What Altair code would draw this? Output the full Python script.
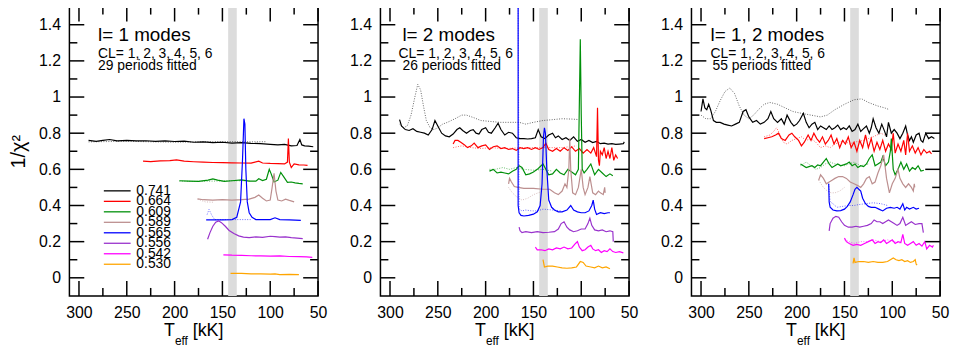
import altair as alt
import pandas as pd

FONT = "Liberation Sans"
SERIES = ["0.741", "0.664", "0.609", "0.589", "0.565", "0.556", "0.542", "0.530"]
COLORS = ["#000000", "#ff0000", "#00900a", "#bc8f8f", "#0000ff", "#9932cc", "#ff00ff", "#ffa500"]

X_MAJOR = [300, 250, 200, 150, 100, 50]
X_MINOR = [275, 225, 175, 125, 75]
Y_MAJOR = [0, 0.2, 0.4, 0.6, 0.8, 1.0, 1.2, 1.4]
Y_MINOR = [0.1, 0.3, 0.5, 0.7, 0.9, 1.1, 1.3]
BAND = [144, 135]

# ---------------- panel 1 : l = 1 ----------------
P1_SOLID = {
    "0.741": [(290, 0.76), (282, 0.755), (275, 0.76), (268, 0.765), (260, 0.758), (250, 0.76), (240, 0.757),
              (230, 0.758), (220, 0.755), (210, 0.757), (200, 0.754), (190, 0.756), (180, 0.75), (170, 0.752),
              (160, 0.748), (150, 0.75), (140, 0.745), (130, 0.748), (120, 0.744), (110, 0.742), (100, 0.738),
              (92, 0.735), (85, 0.738), (78, 0.73), (72, 0.732), (69, 0.765), (67, 0.735), (64, 0.73),
              (60, 0.728), (55, 0.725)],
    "0.664": [(233, 0.645), (225, 0.643), (215, 0.647), (205, 0.648), (198, 0.652), (190, 0.645), (180, 0.642),
              (170, 0.64), (160, 0.638), (150, 0.637), (140, 0.636), (130, 0.635), (120, 0.634), (112, 0.645),
              (108, 0.635), (100, 0.633), (92, 0.632), (85, 0.63), (82, 0.64), (81, 0.77), (80, 0.64),
              (78, 0.61), (75, 0.63), (70, 0.625), (65, 0.624), (61, 0.622)],
    "0.609": [(195, 0.537), (185, 0.535), (175, 0.533), (165, 0.54), (160, 0.547), (155, 0.54), (148, 0.533),
              (140, 0.537), (130, 0.542), (122, 0.535), (115, 0.535), (112, 0.548), (108, 0.538), (104, 0.545),
              (101, 0.6), (99, 0.575), (96, 0.53), (92, 0.54), (89, 0.583), (86, 0.56), (82, 0.528),
              (78, 0.53), (74, 0.525), (70, 0.522), (66, 0.52)],
    "0.589": [(176, 0.437), (170, 0.432), (160, 0.43), (150, 0.432), (140, 0.43), (130, 0.432), (122, 0.435),
              (116, 0.445), (112, 0.458), (108, 0.44), (104, 0.425), (100, 0.43), (98, 0.5), (96, 0.578),
              (94, 0.48), (92, 0.43), (88, 0.425), (84, 0.435), (80, 0.428), (75, 0.42)],
    "0.565": [(167, 0.32), (160, 0.32), (150, 0.32), (140, 0.322), (135, 0.335), (131, 0.42), (129, 0.65),
              (127.5, 0.88), (126.5, 0.85), (125.5, 0.6), (124, 0.42), (122, 0.36), (119, 0.335), (115, 0.322),
              (110, 0.322), (100, 0.322), (95, 0.332), (90, 0.322), (80, 0.32), (68, 0.318)],
    "0.556": [(165.5, 0.213), (163, 0.25), (160, 0.285), (157, 0.308), (154, 0.315), (151, 0.305), (147, 0.285),
              (143, 0.262), (138, 0.245), (133, 0.232), (128, 0.225), (122, 0.222), (115, 0.226), (108, 0.224),
              (100, 0.23), (95, 0.228), (90, 0.225), (84, 0.226), (78, 0.222), (72, 0.22), (66, 0.217)],
    "0.542": [(149, 0.127), (140, 0.125), (130, 0.124), (120, 0.122), (110, 0.121), (100, 0.12), (90, 0.121),
              (80, 0.118), (70, 0.117), (62, 0.116), (56, 0.113)],
    "0.530": [(141.5, 0.025), (130, 0.024), (120, 0.022), (110, 0.022), (100, 0.02), (95, 0.022), (90, 0.018),
              (80, 0.019), (70, 0.018)],
}
P1_DOTTED = {
    "0.741": [(290, 0.752), (250, 0.755), (200, 0.75), (150, 0.754), (120, 0.752), (104, 0.753)],
    "0.609": [(195, 0.535), (180, 0.533), (160, 0.535), (140, 0.537), (120, 0.536)],
    "0.589": [(176, 0.435), (168, 0.42), (160, 0.418)],
    "0.565": [(166, 0.35), (164, 0.378), (161, 0.345), (158, 0.322), (150, 0.322), (140, 0.322),
              (130, 0.322), (120, 0.322)],
}

# ---------------- panel 2 : l = 2 ----------------
P2_SOLID = {
    "0.741": [(290, 0.875), (288, 0.84), (284, 0.82), (280, 0.815), (276, 0.825), (272, 0.81), (268, 0.805),
              (264, 0.8), (260, 0.79), (256, 0.82), (253, 0.87), (250, 0.84), (246, 0.8), (242, 0.785),
              (238, 0.78), (234, 0.795), (230, 0.82), (227, 0.83), (224, 0.815), (220, 0.8), (216, 0.815),
              (213, 0.82), (210, 0.8), (207, 0.795), (204, 0.82), (200, 0.83), (197, 0.805), (194, 0.8),
              (190, 0.83), (187, 0.855), (184, 0.82), (180, 0.79), (176, 0.805), (172, 0.8), (168, 0.775),
              (164, 0.77), (160, 0.77), (156, 0.768), (152, 0.77), (148, 0.775), (145, 0.82), (142, 0.78),
              (138, 0.77), (134, 0.79), (130, 0.8), (127, 0.775), (124, 0.785), (120, 0.765), (116, 0.775),
              (112, 0.76), (108, 0.78), (104, 0.755), (100, 0.765), (96, 0.75), (92, 0.76), (88, 0.748),
              (84, 0.755), (80, 0.742), (76, 0.745), (72, 0.74), (68, 0.742), (64, 0.738), (60, 0.74),
              (56, 0.742), (55, 0.752)],
    "0.664": [(234, 0.74), (232, 0.76), (229, 0.76), (226, 0.75), (222, 0.735), (219, 0.72), (215, 0.73),
              (212, 0.745), (208, 0.72), (204, 0.73), (200, 0.735), (196, 0.71), (192, 0.725), (188, 0.73),
              (184, 0.715), (180, 0.72), (176, 0.71), (172, 0.715), (168, 0.705), (164, 0.72), (160, 0.715),
              (156, 0.72), (152, 0.71), (148, 0.72), (144, 0.71), (140, 0.72), (137, 0.745), (134, 0.71),
              (130, 0.7), (126, 0.715), (122, 0.7), (118, 0.72), (114, 0.705), (110, 0.725), (106, 0.7),
              (102, 0.715), (98, 0.69), (94, 0.71), (90, 0.69), (87, 0.72), (84, 0.67), (83, 0.94),
              (82, 0.65), (81, 0.62), (80, 0.7), (78, 0.68), (76, 0.72), (74, 0.66), (72, 0.7), (70, 0.66),
              (68, 0.72), (66, 0.65), (64, 0.68), (62, 0.66)],
    "0.609": [(196, 0.59), (192, 0.6), (188, 0.58), (184, 0.585), (180, 0.58), (176, 0.575), (172, 0.59),
              (168, 0.6), (165, 0.62), (162, 0.61), (158, 0.57), (154, 0.575), (150, 0.585), (146, 0.6),
              (142, 0.62), (140, 0.63), (137, 0.6), (134, 0.57), (130, 0.575), (126, 0.6), (122, 0.58),
              (118, 0.57), (114, 0.6), (110, 0.585), (106, 0.57), (103, 0.6), (101, 1.32), (100, 0.9),
              (99, 0.6), (97, 0.58), (94, 0.6), (90, 0.63), (86, 0.57), (82, 0.6), (78, 0.58), (74, 0.56),
              (70, 0.575), (67, 0.565)],
    "0.589": [(176, 0.52), (175, 0.55), (173, 0.53), (170, 0.505), (166, 0.5), (160, 0.495), (150, 0.495),
              (140, 0.49), (133, 0.49), (128, 0.47), (124, 0.46), (120, 0.48), (117, 0.52), (115, 0.5),
              (113, 0.6), (112, 0.77), (111, 0.6), (109, 0.47), (106, 0.46), (103, 0.5), (100, 0.6),
              (98, 0.5), (96, 0.46), (93, 0.5), (91, 0.56), (88, 0.47), (85, 0.46), (82, 0.48), (80, 0.47),
              (77, 0.46), (75.5, 0.5), (75, 0.47)],
    "0.565": [(166, 1.52), (166, 0.4), (165, 0.36), (163, 0.345), (160, 0.342), (155, 0.345), (150, 0.352),
              (146, 0.365), (143, 0.4), (141, 0.52), (139.5, 0.78), (138.5, 0.83), (137.5, 0.8), (136, 0.6),
              (134, 0.43), (131, 0.39), (128, 0.375), (124, 0.365), (120, 0.365), (115, 0.375), (111, 0.4),
              (108, 0.375), (104, 0.365), (100, 0.36), (96, 0.36), (92, 0.37), (89, 0.4), (87.5, 0.43),
              (86, 0.38), (84, 0.35), (80, 0.36), (76, 0.355), (72, 0.36), (70, 0.36)],
    "0.556": [(165, 0.28), (164, 0.26), (162, 0.25), (158, 0.255), (152, 0.25), (146, 0.255), (140, 0.25),
              (134, 0.252), (128, 0.255), (124, 0.27), (121, 0.3), (118, 0.31), (115, 0.28), (112, 0.265),
              (108, 0.255), (104, 0.26), (100, 0.27), (96, 0.27), (93, 0.3), (91, 0.33), (89, 0.29),
              (86, 0.265), (82, 0.26), (78, 0.265), (74, 0.255), (70, 0.26), (67, 0.255), (66.5, 0.2)],
    "0.542": [(148, 0.17), (146, 0.155), (142, 0.155), (138, 0.15), (134, 0.16), (130, 0.155), (126, 0.165),
              (122, 0.16), (118, 0.17), (114, 0.16), (110, 0.165), (106, 0.19), (104, 0.2), (102, 0.17),
              (99, 0.15), (96, 0.155), (93, 0.17), (90, 0.18), (88, 0.16), (85, 0.15), (82, 0.155),
              (79, 0.14), (76, 0.15), (73, 0.145), (70, 0.16), (67, 0.145), (64, 0.14), (60, 0.145),
              (56, 0.138)],
    "0.530": [(140, 0.1), (138.5, 0.06), (135, 0.065), (130, 0.065), (125, 0.06), (120, 0.055), (115, 0.053),
              (110, 0.055), (105, 0.06), (101, 0.09), (98, 0.085), (95, 0.065), (90, 0.06), (86, 0.055),
              (82, 0.065), (78, 0.055), (74, 0.06), (70, 0.05)],
}
P2_DOTTED = {
    "0.741": [(290, 0.85), (286, 0.83), (282, 0.84), (278, 0.9), (274, 1.0), (271, 1.07), (268, 1.04),
              (265, 0.95), (262, 0.87), (258, 0.83), (254, 0.82), (250, 0.83), (245, 0.85), (240, 0.86),
              (232, 0.88), (225, 0.9), (220, 0.9), (212, 0.885), (205, 0.87), (195, 0.865), (185, 0.86),
              (175, 0.86), (165, 0.86), (158, 0.85), (150, 0.86), (140, 0.87), (130, 0.875), (120, 0.88),
              (110, 0.878), (104, 0.876)],
    "0.664": [(234, 0.72), (225, 0.73), (215, 0.72), (205, 0.715), (195, 0.72), (180, 0.715), (160, 0.72),
              (140, 0.72), (120, 0.72), (105, 0.73)],
    "0.609": [(196, 0.6), (190, 0.6), (182, 0.61), (175, 0.6), (168, 0.61), (160, 0.6), (150, 0.595),
              (140, 0.6), (130, 0.59)],
    "0.589": [(176, 0.5), (172, 0.47), (168, 0.45), (162, 0.43), (156, 0.44), (150, 0.46), (140, 0.48)],
    "0.565": [(166, 1.52), (165, 0.38), (162, 0.37), (158, 0.375), (152, 0.37), (146, 0.37), (140, 0.38),
              (130, 0.375), (120, 0.37)],
}

# ---------------- panel 3 : l = 1, 2 ----------------
P3_SOLID = {
    "0.741": [(300, 0.92), (298, 0.99), (296, 0.94), (294, 0.93), (292, 0.96), (290, 0.93), (287, 0.87),
              (284, 0.86), (280, 0.86), (276, 0.85), (272, 0.845), (268, 0.84), (264, 0.85), (260, 0.86),
              (256, 0.92), (253, 0.93), (250, 0.89), (246, 0.86), (242, 0.87), (238, 0.85), (234, 0.86),
              (230, 0.88), (227, 0.92), (224, 0.88), (220, 0.86), (216, 0.88), (213, 0.85), (210, 0.9),
              (206, 0.86), (203, 0.84), (200, 0.85), (197, 0.87), (193, 0.91), (190, 0.86), (187, 0.83),
              (184, 0.85), (181, 0.86), (178, 0.82), (175, 0.84), (172, 0.83), (169, 0.82), (166, 0.84),
              (163, 0.82), (160, 0.83), (157, 0.845), (154, 0.82), (151, 0.83), (148, 0.82), (145, 0.84),
              (142, 0.81), (139, 0.82), (136, 0.85), (133, 0.81), (130, 0.825), (127, 0.84), (124, 0.8),
              (122, 0.83), (120, 0.88), (117, 0.83), (114, 0.8), (111, 0.85), (108, 0.81), (106, 0.78),
              (104, 0.86), (101, 0.8), (98, 0.82), (95, 0.8), (92, 0.77), (89, 0.8), (86, 0.84), (84, 0.79),
              (82, 0.76), (80, 0.78), (78, 0.75), (75, 0.79), (72, 0.8), (70, 0.76), (68, 0.75), (65, 0.8),
              (62, 0.77), (59, 0.78), (56, 0.77)],
    "0.664": [(234, 0.77), (230, 0.775), (226, 0.78), (222, 0.79), (219, 0.8), (216, 0.77), (212, 0.76),
              (208, 0.79), (205, 0.8), (202, 0.78), (198, 0.76), (195, 0.73), (192, 0.75), (188, 0.79),
              (185, 0.76), (182, 0.8), (179, 0.77), (176, 0.75), (173, 0.78), (170, 0.74), (167, 0.76),
              (164, 0.79), (161, 0.74), (158, 0.77), (155, 0.72), (152, 0.76), (149, 0.74), (146, 0.78),
              (143, 0.72), (140, 0.75), (137, 0.7), (134, 0.76), (131, 0.72), (128, 0.79), (125, 0.72),
              (122, 0.77), (119, 0.7), (116, 0.75), (113, 0.71), (110, 0.76), (107, 0.7), (104, 0.74),
              (101, 0.71), (99, 0.8), (97, 0.69), (94, 0.74), (91, 0.7), (88, 0.76), (86, 0.68), (84, 0.8),
              (82, 0.7), (79, 0.73), (76, 0.69), (73, 0.72), (70, 0.68), (67, 0.71), (64, 0.69), (61, 0.7),
              (59, 0.685)],
    "0.609": [(196, 0.63), (193, 0.62), (190, 0.61), (187, 0.615), (184, 0.62), (181, 0.61), (178, 0.625),
              (175, 0.62), (172, 0.64), (169, 0.66), (166, 0.63), (163, 0.61), (160, 0.62), (157, 0.63),
              (154, 0.62), (151, 0.625), (148, 0.63), (145, 0.64), (142, 0.62), (139, 0.63), (136, 0.61),
              (133, 0.62), (130, 0.615), (127, 0.63), (124, 0.66), (121, 0.68), (118, 0.62), (115, 0.63),
              (112, 0.64), (110, 0.67), (107, 0.62), (104, 0.64), (102, 0.7), (101, 0.77), (99, 0.6),
              (97, 0.57), (94, 0.6), (91, 0.64), (88, 0.6), (85, 0.63), (82, 0.59), (79, 0.61), (76, 0.6),
              (73, 0.62), (70, 0.59), (67, 0.595)],
    "0.589": [(177, 0.54), (175, 0.57), (172, 0.55), (169, 0.52), (166, 0.53), (163, 0.54), (160, 0.55),
              (156, 0.56), (152, 0.56), (148, 0.55), (144, 0.53), (140, 0.52), (136, 0.51), (133, 0.5),
              (130, 0.52), (127, 0.55), (124, 0.56), (121, 0.52), (118, 0.53), (115, 0.58), (112, 0.62),
              (109, 0.68), (106, 0.55), (103, 0.47), (100, 0.52), (97, 0.55), (94, 0.6), (92, 0.55),
              (89, 0.52), (86, 0.5), (83, 0.52), (80, 0.5), (78, 0.48), (77, 0.52), (76.5, 0.5)],
    "0.565": [(166.5, 0.52), (166, 0.42), (165, 0.39), (162, 0.375), (158, 0.37), (154, 0.372), (150, 0.38),
              (147, 0.395), (144, 0.42), (141, 0.46), (139, 0.49), (137, 0.5), (135, 0.49), (133, 0.48),
              (131, 0.44), (128, 0.41), (125, 0.395), (122, 0.39), (118, 0.39), (114, 0.38), (110, 0.37),
              (106, 0.385), (102, 0.39), (98, 0.385), (95, 0.39), (92, 0.38), (89, 0.41), (87, 0.375),
              (85, 0.39), (82, 0.38), (78, 0.39), (75, 0.38), (72, 0.385)],
    "0.556": [(166, 0.26), (165, 0.3), (162, 0.33), (159, 0.34), (156, 0.335), (153, 0.31), (150, 0.29),
              (146, 0.28), (142, 0.28), (138, 0.285), (134, 0.28), (130, 0.285), (126, 0.29), (122, 0.3),
              (119, 0.32), (116, 0.31), (113, 0.31), (110, 0.3), (107, 0.31), (104, 0.32), (101, 0.31),
              (98, 0.3), (95, 0.29), (92, 0.3), (89, 0.335), (86, 0.29), (83, 0.3), (80, 0.31), (76, 0.295),
              (72, 0.3), (69, 0.3), (67.5, 0.25)],
    "0.542": [(150, 0.22), (148, 0.2), (145, 0.19), (141, 0.18), (137, 0.185), (133, 0.18), (129, 0.19),
              (125, 0.2), (121, 0.21), (118, 0.19), (115, 0.2), (112, 0.195), (109, 0.21), (106, 0.19),
              (103, 0.2), (100, 0.21), (97, 0.19), (94, 0.2), (91, 0.195), (89, 0.24), (87, 0.19),
              (84, 0.18), (81, 0.19), (78, 0.2), (75, 0.18), (72, 0.19), (69, 0.175), (66, 0.2), (64, 0.16),
              (61, 0.18), (58, 0.17), (57, 0.18)],
    "0.530": [(141, 0.08), (140, 0.11), (139, 0.085), (135, 0.09), (130, 0.09), (125, 0.085), (120, 0.09),
              (115, 0.085), (110, 0.085), (105, 0.09), (102, 0.1), (99, 0.11), (96, 0.1), (93, 0.095),
              (90, 0.1), (87, 0.09), (84, 0.095), (81, 0.085), (78, 0.09), (76, 0.1), (75, 0.075),
              (74, 0.07)],
}
P3_DOTTED = {
    "0.741": [(300, 0.9), (295, 0.88), (290, 0.88), (285, 0.92), (280, 0.98), (275, 1.03), (270, 1.05),
              (265, 1.02), (260, 0.95), (255, 0.9), (250, 0.88), (245, 0.9), (240, 0.93), (234, 0.96),
              (228, 0.97), (220, 0.96), (212, 0.94), (204, 0.92), (195, 0.91), (185, 0.9), (175, 0.89),
              (168, 0.9), (160, 0.93), (150, 0.96), (140, 0.985), (132, 0.99), (125, 0.97), (115, 0.95),
              (108, 0.94), (103, 0.93)],
    "0.664": [(234, 0.78), (228, 0.79), (224, 0.81), (221, 0.83), (218, 0.8), (214, 0.75), (210, 0.74),
              (205, 0.76), (200, 0.77), (195, 0.78), (190, 0.76), (185, 0.77), (180, 0.75), (175, 0.72),
              (170, 0.73), (165, 0.72), (160, 0.74), (155, 0.75), (150, 0.76), (145, 0.74), (140, 0.75),
              (130, 0.76), (120, 0.78), (112, 0.8), (108, 0.79)],
    "0.609": [(196, 0.62), (190, 0.64), (185, 0.62), (180, 0.6), (175, 0.61), (170, 0.63), (165, 0.64),
              (160, 0.63), (150, 0.62), (140, 0.64), (133, 0.62), (125, 0.63)],
    "0.589": [(177, 0.54), (172, 0.5), (168, 0.48), (164, 0.47), (160, 0.47), (155, 0.48), (150, 0.5)],
    "0.565": [(166.5, 0.52), (165, 0.42), (162, 0.41), (158, 0.39), (152, 0.395), (146, 0.4), (140, 0.4),
              (135, 0.405), (128, 0.41), (120, 0.415), (112, 0.41), (105, 0.4)],
    "0.542": [(150, 0.21), (145, 0.2), (140, 0.19), (133, 0.2), (126, 0.2), (120, 0.21), (112, 0.2),
              (105, 0.21), (98, 0.2), (90, 0.19)],
}

# panel annotations: (text, left edge in data units, baseline in data units, font size)
PANEL_TEXT = [
    [("l= 1 modes", 280, 1.308, 19), ("CL= 1, 2, 3, 4, 5, 6", 280, 1.215, 14),
     ("29 periods fitted", 280, 1.149, 14)],
    [("l= 2 modes", 287, 1.308, 19), ("CL= 1, 2, 3, 4, 5, 6", 291, 1.215, 14),
     ("26 periods fitted", 287, 1.149, 14)],
    [("l= 1, 2 modes", 290, 1.308, 19), ("CL= 1, 2, 3, 4, 5, 6", 290, 1.215, 14),
     ("55 periods fitted", 288, 1.149, 14)],
]

W, H = 251, 292
MAJ, MIN = 15, 8

xs = alt.Scale(domain=[310, 50], nice=False, zero=False)
ys = alt.Scale(domain=[-0.1, 1.5], nice=False, zero=False)
cs = alt.Scale(domain=SERIES, range=COLORS)


def lines_df(d, style):
    rows = []
    for s, pts in d.items():
        for i, (x, y) in enumerate(pts):
            rows.append({"series": s, "key": s + style, "i": i, "x": x, "y": y})
    return pd.DataFrame(rows)


def text_px(txt, x, y, size):
    return alt.Chart(pd.DataFrame({"t": [txt]})).mark_text(
        align="left", baseline="alphabetic", fontSize=size, font=FONT, color="black"
    ).encode(text="t:N", x=alt.value(x), y=alt.value(y))


def panel(k, solid, dotted, show_title, legend):
    xaxis = alt.Axis(values=X_MAJOR, ticks=False, domain=False, grid=False, labelFlush=False,
                     labelOverlap=False, labelFontSize=16, labelPadding=9, title=None, format="d")
    yaxis = alt.Axis(values=Y_MAJOR, ticks=False, domain=False, grid=False, labelFlush=False,
                     labelOverlap=False, labelFontSize=16, labelPadding=9, format="~g",
                     title=("1/χ²" if show_title else None), titleFontSize=20,
                     titleFontWeight="normal", titlePadding=10)
    X = lambda f: alt.X(f, scale=xs, axis=xaxis)
    Y = lambda f: alt.Y(f, scale=ys, axis=yaxis)
    layers = []
    band = alt.Chart(pd.DataFrame({"a": [BAND[0]], "b": [BAND[1]]})).mark_rect(color="#dcdcdc").encode(
        x=X("a:Q"), x2="b:Q", y=alt.value(0), y2=alt.value(H))
    layers.append(band)
    ddf = lines_df(dotted, "d")
    if len(ddf):
        layers.append(alt.Chart(ddf).mark_line(strokeWidth=1, strokeDash=[1, 1.5], opacity=0.6, clip=True).encode(
            x=X("x:Q"), y=Y("y:Q"), color=alt.Color("series:N", scale=cs, legend=None),
            detail="key:N", order="i:Q"))
    sdf = lines_df(solid, "s")
    layers.append(alt.Chart(sdf).mark_line(strokeWidth=1.2, clip=True).encode(
        x=X("x:Q"), y=Y("y:Q"), color=alt.Color("series:N", scale=cs, legend=None),
        detail="key:N", order="i:Q"))
    # inward ticks on all four sides
    for vals, L in ((X_MAJOR, MAJ), (X_MINOR, MIN)):
        base = alt.Chart(pd.DataFrame({"v": vals})).mark_rule(color="black", strokeWidth=1.5)
        layers.append(base.encode(x=X("v:Q"), y=alt.value(H), y2=alt.value(H - L)))
        layers.append(base.encode(x=X("v:Q"), y=alt.value(0), y2=alt.value(L)))
    for vals, L in ((Y_MAJOR, MAJ), (Y_MINOR, MIN)):
        base = alt.Chart(pd.DataFrame({"v": vals})).mark_rule(color="black", strokeWidth=1.5)
        layers.append(base.encode(y=Y("v:Q"), x=alt.value(0), x2=alt.value(L)))
        layers.append(base.encode(y=Y("v:Q"), x=alt.value(W), x2=alt.value(W - L)))
    tdf = pd.DataFrame(PANEL_TEXT[k], columns=["t", "x", "y", "s"])
    for sz in sorted(set(tdf["s"])):
        layers.append(alt.Chart(tdf[tdf["s"] == sz]).mark_text(
            align="left", baseline="alphabetic", fontSize=int(sz), font=FONT, color="black"
        ).encode(x=X("x:Q"), y=Y("y:Q"), text="t:N"))
    # x title  T_eff [kK]
    c = W / 2
    layers.append(text_px("T", c - 30, H + 41, 18))
    layers.append(text_px("eff", c - 19, H + 50, 12))
    layers.append(text_px("[kK]", c - 1, H + 41, 18))
    if legend:
        top, step = 0.481, 0.058
        ldf = pd.DataFrame({"series": SERIES,
                            "y": [top - step * j for j in range(len(SERIES))],
                            "a": [274] * len(SERIES), "b": [246] * len(SERIES), "t": [240] * len(SERIES)})
        layers.append(alt.Chart(ldf).mark_rule(strokeWidth=1.3).encode(
            x=X("a:Q"), x2="b:Q", y=Y("y:Q"), color=alt.Color("series:N", scale=cs, legend=None)))
        layers.append(alt.Chart(ldf).mark_text(align="left", baseline="middle", fontSize=14, font=FONT,
                                               color="black").encode(x=X("t:Q"), y=Y("y:Q"), text="series:N"))
    return alt.layer(*layers).properties(width=W, height=H)


p1 = panel(0, P1_SOLID, P1_DOTTED, True, True)
p2 = panel(1, P2_SOLID, P2_DOTTED, False, False)
p3 = panel(2, P3_SOLID, P3_DOTTED, False, False)

chart = alt.hconcat(p1, p2, p3, spacing=63, bounds="flush").properties(
    padding={"left": 0, "top": -5, "right": 0, "bottom": 0}
).configure_view(stroke="black", strokeWidth=1.5).configure_axis(
    labelFont=FONT, titleFont=FONT, labelColor="black", titleColor="black"
)

chart.save("out.html", embed_options={"renderer": "svg", "actions": False})
